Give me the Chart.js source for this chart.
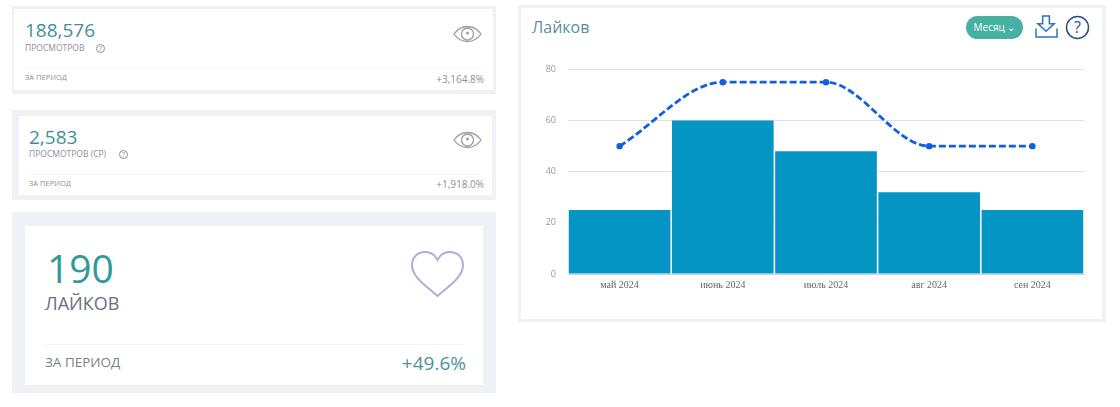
<!DOCTYPE html>
<html lang="ru">
<head>
<meta charset="utf-8">
<title>Лайков</title>
<script src="https://cdn.jsdelivr.net/npm/chart.js@4"></script>
<style>
  html, body { margin: 0; padding: 0; background: #fff; }
  body { width: 1120px; height: 407px; position: relative; overflow: hidden; font-family: "Open Sans", sans-serif; }
  .abs { position: absolute; white-space: nowrap; }
  .outer { position: absolute; background: #f0f1f7; }
  .inner { position: absolute; background: #fff; }
  .teal { color: #3f8f9c; }
  .small { color: #8c909a; }
  svg { position: absolute; overflow: visible; }
  svg text { font-family: "Open Sans", sans-serif; }
</style>
</head>
<body>
  <!-- card 1 -->
  <div class="outer" style="left:12px;top:6px;width:484px;height:88px"></div>
  <div class="inner" style="left:14px;top:9px;width:479px;height:81px"></div>
  <div class="abs teal" style="left:25px;top:17px;font-size:19px;line-height:26px">188,576</div>
  <div class="abs small" style="left:25px;top:42px;font-size:8.500px;line-height:12px">ПРОСМОТРОВ</div>
  <svg style="left:95px;top:43px" width="11" height="11"><circle cx="5.500" cy="5.500" r="4" fill="none" stroke="#8c909a"/><text x="5.500" y="8" text-anchor="middle" font-size="7" fill="#8c909a">?</text></svg>
  <svg style="left:453px;top:23px" width="30" height="22"><path d="M1 11 C8 1 21 1 28 11 C21 21 8 21 1 11Z" fill="none" stroke="#9a9da8" stroke-width="1.300"/><circle cx="14.500" cy="11" r="6" fill="none" stroke="#9a9da8" stroke-width="1.300"/><circle cx="14.500" cy="10" r="1.500" fill="#9a9da8"/></svg>
  <div class="abs" style="left:25px;top:68px;width:455px;height:1px;background:#f4f5f7"></div>
  <div class="abs small" style="left:25px;top:72px;font-size:7.500px;line-height:11px">ЗА ПЕРИОД</div>
  <div class="abs small" style="right:636px;top:72px;font-size:10px;line-height:14px">+3,164.8%</div>

  <!-- card 2 -->
  <div class="outer" style="left:12px;top:110px;width:484px;height:90px"></div>
  <div class="inner" style="left:19px;top:116px;width:473px;height:79px"></div>
  <div class="abs teal" style="left:29px;top:124px;font-size:19px;line-height:26px">2,583</div>
  <div class="abs small" style="left:29px;top:148px;font-size:8.500px;line-height:12px">ПРОСМОТРОВ (СР)</div>
  <svg style="left:118px;top:149px" width="11" height="11"><circle cx="5.500" cy="5.500" r="4" fill="none" stroke="#8c909a"/><text x="5.500" y="8" text-anchor="middle" font-size="7" fill="#8c909a">?</text></svg>
  <svg style="left:453px;top:129px" width="30" height="22"><path d="M1 11 C8 1 21 1 28 11 C21 21 8 21 1 11Z" fill="none" stroke="#9a9da8" stroke-width="1.300"/><circle cx="14.500" cy="11" r="6" fill="none" stroke="#9a9da8" stroke-width="1.300"/><circle cx="14.500" cy="10" r="1.500" fill="#9a9da8"/></svg>
  <div class="abs" style="left:29px;top:174px;width:452px;height:1px;background:#f4f5f7"></div>
  <div class="abs small" style="left:29px;top:178px;font-size:7.500px;line-height:11px">ЗА ПЕРИОД</div>
  <div class="abs small" style="right:636px;top:177px;font-size:10px;line-height:14px">+1,918.0%</div>

  <!-- card 3 -->
  <div class="outer" style="left:12px;top:212px;width:484px;height:181px"></div>
  <div class="inner" style="left:25px;top:226px;width:458px;height:159px"></div>
  <div class="abs" style="left:47px;top:243px;font-size:39px;line-height:50px;color:#2f9a98">190</div>
  <div class="abs" style="left:45px;top:290px;font-size:18px;line-height:26px;color:#6a6e80">ЛАЙКОВ</div>
  <svg style="left:411px;top:251px" width="54" height="48" viewBox="0 0 54 48"><path d="M26.500 45 C15 35 1 26 1 14 C1 6 7 1 14 1 C20 1 24 4 26.500 9 C29 4 33 1 39 1 C46 1 52 6 52 14 C52 26 38 35 26.500 45Z" fill="none" stroke="#aeb0d2" stroke-width="2"/></svg>
  <div class="abs" style="left:45px;top:344px;width:418px;height:1px;background:#f4f5f7"></div>
  <div class="abs" style="left:45px;top:353px;font-size:13.500px;line-height:18px;color:#7b7f88">ЗА ПЕРИОД</div>
  <div class="abs" style="right:654px;top:350px;font-size:19px;line-height:26px;color:#4f8f9e">+49.6%</div>

  <!-- chart card -->
  <div class="outer" style="left:518px;top:5px;width:588px;height:317px"></div>
  <div class="inner" style="left:521px;top:8px;width:581px;height:311px"></div>
  <div class="abs" style="left:532px;top:16px;font-size:16px;line-height:22px;color:#5c8f9e">Лайков</div>
  <div class="abs" style="left:966px;top:16px;width:57px;height:23px;border-radius:12px;background:#48b0a2;color:#fff;font-size:10px;line-height:23px;text-align:center">Месяц ⌄</div>
  <svg style="left:1035px;top:15px" width="23" height="24" viewBox="0 0 24 25"><path d="M8 1 H15 V9 H20 L11.500 17 L3 9 H8Z" fill="none" stroke="#2f77b8" stroke-width="1.600"/><path d="M1 14 V23 H23 V14" fill="none" stroke="#2f77b8" stroke-width="1.600"/></svg>
  <svg style="left:1065px;top:15px" width="25" height="25"><circle cx="12.500" cy="12.500" r="11" fill="none" stroke="#27508f" stroke-width="1.500"/><text x="12.500" y="18" text-anchor="middle" font-size="16" fill="#27508f">?</text></svg>

  <div style="position:absolute;left:530px;top:52px;width:565px;height:244px"><canvas id="likes-chart"></canvas></div>

<script>
const months = ['май 2024', 'июнь 2024', 'июль 2024', 'авг 2024', 'сен 2024'];
const barValues = [25, 60, 48, 32, 25];
const lineValues = [50, 75, 75, 50, 50];

new Chart(document.getElementById('likes-chart'), {
  data: {
    labels: months,
    datasets: [
      {
        type: 'line',
        data: lineValues,
        borderColor: '#0f5fe0',
        backgroundColor: '#0f5fe0',
        borderWidth: 2.8,
        borderDash: [7, 3],
        pointRadius: 1.8,
        cubicInterpolationMode: 'monotone',
        order: 0,
      },
      {
        type: 'bar',
        data: barValues,
        backgroundColor: '#0595c4',
        categoryPercentage: 1,
        barPercentage: 0.985,
        order: 1,
      },
    ],
  },
  options: {
    responsive: true,
    maintainAspectRatio: false,
    animation: false,
    plugins: { legend: { display: false }, tooltip: { enabled: false } },
    layout: { padding: { top: 5, right: 11, bottom: 0, left: 0 } },
    scales: {
      x: {
        grid: { display: false, drawTicks: false },
        border: { color: '#cfd3d8' },
        ticks: { color: '#666', font: { family: 'Liberation Serif', size: 10 }, padding: 5 },
      },
      y: {
        min: 0,
        max: 80,
        afterFit: axis => { axis.width = 38; },
        grid: { color: '#dfe1e3', drawTicks: false },
        border: { display: false },
        ticks: { stepSize: 20, color: '#999', font: { family: 'Open Sans', size: 9 }, padding: 12 },
      },
    },
  },
});
</script>
</body>
</html>
